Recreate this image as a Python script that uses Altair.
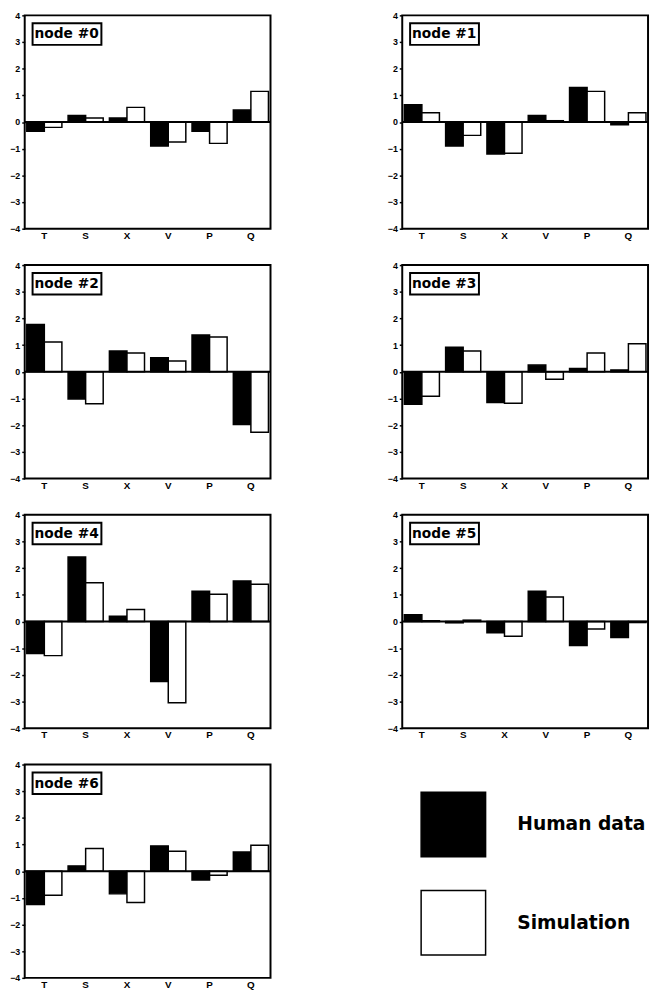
import altair as alt
import pandas as pd

categories = ["T", "S", "X", "V", "P", "Q"]
series_names = ["Human data", "Simulation"]
node_labels = ["node #0", "node #1", "node #2", "node #3", "node #4", "node #5", "node #6"]

human = [
    [-0.35, 0.25, 0.15, -0.9, -0.35, 0.45],
    [0.65, -0.9, -1.2, 0.25, 1.3, -0.1],
    [1.77, -1.02, 0.78, 0.53, 1.38, -1.98],
    [-1.22, 0.92, -1.15, 0.25, 0.12, 0.07],
    [-1.2, 2.42, 0.2, -2.25, 1.13, 1.52],
    [0.25, -0.05, -0.42, 1.13, -0.9, -0.6],
    [-1.25, 0.2, -0.85, 0.95, -0.33, 0.72],
]
simulation = [
    [-0.2, 0.15, 0.55, -0.75, -0.8, 1.15],
    [0.35, -0.5, -1.17, 0.05, 1.15, 0.35],
    [1.12, -1.2, 0.7, 0.4, 1.3, -2.27],
    [-0.92, 0.78, -1.18, -0.28, 0.7, 1.05],
    [-1.28, 1.45, 0.45, -3.05, 1.02, 1.4],
    [0.03, 0.05, -0.55, 0.92, -0.28, -0.04],
    [-0.9, 0.85, -1.17, 0.75, -0.15, 0.97],
]
y_ticks = [-4, -3, -2, -1, 0, 1, 2, 3, 4]

FONT = "Liberation Sans"
W, H = 250, 217

y_scale = alt.Scale(domain=[-4, 4], nice=False, zero=False)
y_axis = alt.Axis(title=None, values=y_ticks, grid=False, domain=False,
                  tickSize=3, tickWidth=1.5, tickColor="black",
                  labelOverlap=False, labelFont=FONT, labelFontWeight="bold",
                  labelFontSize=9, labelColor="black", labelPadding=2, format="d")


def panel(i):
    rows = []
    for c, h, s in zip(categories, human[i], simulation[i]):
        rows.append({"cat": c, "series": series_names[0], "value": h})
        rows.append({"cat": c, "series": series_names[1], "value": s})
    df = pd.DataFrame(rows)
    lab = pd.DataFrame({"node": [node_labels[i]]})

    bars = alt.Chart(df).mark_bar(stroke="black", strokeWidth=1.5).encode(
        x=alt.X("cat:N", sort=categories,
                scale=alt.Scale(paddingInner=0.15, paddingOuter=0.05),
                axis=alt.Axis(title=None, labelAngle=0, ticks=False, domain=False,
                              labelFont=FONT, labelFontWeight="bold", labelFontSize=10,
                              labelColor="black", labelPadding=2)),
        xOffset=alt.XOffset("series:N", sort=series_names,
                            scale=alt.Scale(paddingInner=0, paddingOuter=0)),
        y=alt.Y("value:Q", scale=y_scale, axis=y_axis),
        fill=alt.Fill("series:N", scale=alt.Scale(domain=series_names, range=["black", "white"]),
                      legend=None),
    )
    zero = alt.Chart(lab).mark_rule(color="black", strokeWidth=2).encode(
        y=alt.YDatum(0, scale=y_scale, axis=y_axis))
    box = alt.Chart(lab).mark_rect(fill="white", stroke="black", strokeWidth=2).encode(
        x=alt.value(8), x2=alt.value(78), y=alt.value(8), y2=alt.value(30))
    txt = alt.Chart(lab).mark_text(align="left", baseline="middle", font="DejaVu Sans",
                                   fontWeight="bold", fontSize=14, color="black").encode(
        x=alt.value(10), y=alt.value(19.5), text="node:N")
    return alt.layer(bars, zero, box, txt).properties(
        width=W, height=H, view=alt.ViewBackground(stroke="black", strokeWidth=2))


leg_df = pd.DataFrame({"series": series_names})
leg_scale = alt.Scale(type="point", range=[66, 166], padding=0)
leg_sq = alt.Chart(leg_df).mark_square(size=4300, stroke="black", strokeWidth=1.5, opacity=1).encode(
    x=alt.value(52),
    y=alt.Y("series:N", sort=series_names, scale=leg_scale, axis=None),
    fill=alt.Fill("series:N", scale=alt.Scale(domain=series_names, range=["black", "white"]),
                  legend=None),
)
leg_txt = alt.Chart(leg_df).mark_text(align="left", baseline="middle", font="DejaVu Sans",
                                      fontWeight="bold", fontSize=19, color="black").encode(
    x=alt.value(117),
    y=alt.Y("series:N", sort=series_names, scale=leg_scale, axis=None),
    text="series:N",
)
legend = alt.layer(leg_sq, leg_txt).properties(
    width=W, height=H, view=alt.ViewBackground(stroke="white", strokeWidth=0))

left = alt.vconcat(panel(0), panel(2), panel(4), panel(6), spacing=19)
right = alt.vconcat(panel(1), panel(3), panel(5), legend, spacing=19)
chart = alt.hconcat(left, right, spacing=115).properties(
    padding={"left": 0, "top": -6, "right": 0, "bottom": 0}
).configure(background="white")

chart.save("out.html", embed_options={"renderer": "svg", "actions": False})
